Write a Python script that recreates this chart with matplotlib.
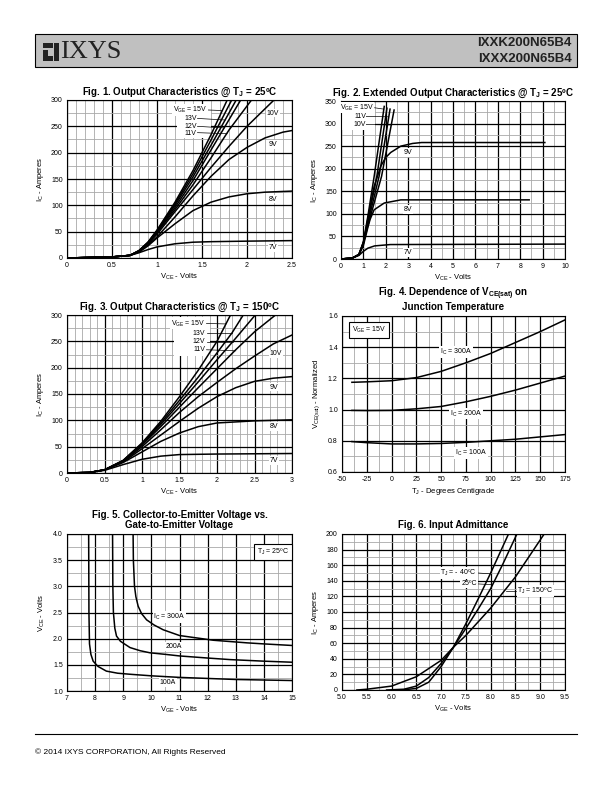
import numpy as np
import matplotlib
matplotlib.use('Agg')
import matplotlib.pyplot as plt
from matplotlib.patches import Rectangle

plt.rcParams['font.family'] = ['Liberation Sans Narrow', 'Liberation Sans', 'DejaVu Sans']
plt.rcParams['mathtext.default'] = 'regular'

# ---- Fig. 1 : output characteristics @ 25C (VCE volts, IC amps)
f1_x15 = [0, 0.5, 0.7, 0.8, 0.9, 1.0, 1.2, 1.4, 1.6, 1.78]
f1_y15 = [0, 2, 5, 14, 30, 53, 106, 166, 234, 300]
f1_x14 = [0, 0.5, 0.7, 0.8, 0.9, 1.0, 1.2, 1.4, 1.6, 1.83]
f1_y14 = [0, 2, 5, 14, 30, 52, 103, 160, 224, 300]
f1_x13 = [0, 0.5, 0.7, 0.8, 0.9, 1.0, 1.2, 1.4, 1.6, 1.88]
f1_y13 = [0, 2, 5, 14, 29, 51, 100, 154, 214, 300]
f1_x12 = [0, 0.5, 0.7, 0.8, 0.9, 1.0, 1.2, 1.4, 1.6, 1.93]
f1_y12 = [0, 2, 5, 13, 28, 50, 96, 147, 205, 300]
f1_x11 = [0, 0.5, 0.7, 0.8, 0.9, 1.0, 1.2, 1.4, 1.6, 1.8, 2.05]
f1_y11 = [0, 2, 5, 13, 28, 48, 92, 139, 190, 243, 300]
f1_x10 = [0, 0.5, 0.7, 0.8, 0.9, 1.0, 1.2, 1.4, 1.6, 1.8, 2.0, 2.3]
f1_y10 = [0, 2, 5, 13, 27, 45, 88, 130, 172, 212, 250, 300]
f1_x9 = [0, 0.5, 0.7, 0.8, 0.9, 1.0, 1.2, 1.4, 1.6, 1.8, 2.0, 2.2, 2.4, 2.5]
f1_y9 = [0, 2, 5, 12, 25, 40, 78, 118, 155, 187, 210, 228, 239, 242]
f1_x8 = [0, 0.5, 0.7, 0.8, 0.9, 1.0, 1.2, 1.4, 1.6, 1.8, 2.0, 2.2, 2.5]
f1_y8 = [0, 2, 5, 11, 23, 38, 65, 90, 106, 116, 122, 125, 127]
f1_x7 = [0, 0.5, 0.7, 0.8, 0.9, 1.0, 1.2, 1.4, 1.6, 2.0, 2.5]
f1_y7 = [0, 2, 5, 10, 16, 21, 27, 30, 31, 32, 33]

# ---- Fig. 2 : extended output characteristics @ 25C
f2_x15 = [0, 0.5, 0.8, 1.0, 1.2, 1.48, 1.93]
f2_y15 = [0, 2, 10, 38, 95, 183, 338]
f2_x13 = [0, 0.5, 0.8, 1.0, 1.2, 1.6, 2.05]
f2_y13 = [0, 2, 10, 37, 85, 183, 334]
f2_x11 = [0, 0.5, 0.8, 1.0, 1.2, 1.7, 2.19]
f2_y11 = [0, 2, 10, 36, 80, 183, 332]
f2_x10 = [0, 0.5, 0.8, 1.0, 1.2, 1.81, 2.37]
f2_y10 = [0, 2, 10, 35, 74, 183, 330]
f2_x9 = [0, 0.5, 0.8, 1.0, 1.2, 1.48, 1.78, 2.0, 2.22, 2.67, 3.2, 3.6, 9.1]
f2_y9 = [0, 2, 9, 34, 90, 161, 206, 225, 236, 250, 256, 258, 258]
f2_x8 = [0, 0.5, 0.8, 1.0, 1.2, 1.3, 1.48, 1.93, 2.67, 8.4]
f2_y8 = [0, 2, 9, 30, 70, 88, 109, 124, 131, 131]
f2_x7 = [0, 0.5, 0.8, 1.0, 1.2, 1.5, 2.2, 10]
f2_y7 = [0, 2, 8, 17, 24, 29, 32, 33]

# ---- Fig. 3 : output characteristics @ 150C
f3_x15 = [0, 0.3, 0.5, 0.75, 1.0, 1.25, 1.5, 1.75, 2.0, 2.18]
f3_y15 = [0, 1, 6, 24, 57, 98, 145, 195, 250, 300]
f3_x13 = [0, 0.3, 0.5, 0.75, 1.0, 1.25, 1.5, 1.75, 2.0, 2.2, 2.35]
f3_y13 = [0, 1, 6, 24, 56, 95, 138, 182, 228, 266, 300]
f3_x12 = [0, 0.3, 0.5, 0.75, 1.0, 1.25, 1.5, 1.75, 2.0, 2.25, 2.51]
f3_y12 = [0, 1, 6, 23, 55, 92, 132, 173, 215, 256, 300]
f3_x11 = [0, 0.3, 0.5, 0.75, 1.0, 1.25, 1.5, 1.75, 2.0, 2.25, 2.5, 2.78]
f3_y11 = [0, 1, 6, 23, 53, 88, 125, 162, 198, 234, 268, 300]
f3_x10 = [0, 0.3, 0.5, 0.75, 1.0, 1.25, 1.5, 1.75, 2.0, 2.25, 2.5, 2.75, 3.0]
f3_y10 = [0, 1, 6, 22, 50, 82, 115, 145, 172, 198, 222, 245, 262]
f3_x9 = [0, 0.3, 0.5, 0.75, 1.0, 1.25, 1.5, 1.75, 2.0, 2.25, 2.5, 2.75, 3.0]
f3_y9 = [0, 1, 6, 21, 46, 72, 98, 123, 145, 162, 174, 180, 183]
f3_x8 = [0, 0.3, 0.5, 0.75, 1.0, 1.25, 1.5, 1.75, 2.0, 2.5, 3.0]
f3_y8 = [0, 1, 6, 20, 40, 60, 76, 88, 95, 99, 101]
f3_x7 = [0, 0.3, 0.5, 0.75, 1.0, 1.25, 1.5, 2.0, 3.0]
f3_y7 = [0, 1, 5, 16, 26, 32, 35, 36, 37]

# ---- Fig. 4 : VCE(sat) normalized vs junction temperature
f4_temp = [-40, -25, 0, 25, 50, 75, 100, 125, 150, 175]
f4_300a = [1.175, 1.178, 1.185, 1.205, 1.245, 1.30, 1.36, 1.43, 1.50, 1.575]
f4_200a = [0.995, 0.994, 0.995, 1.005, 1.02, 1.05, 1.085, 1.125, 1.17, 1.215]
f4_100a = [0.795, 0.788, 0.78, 0.78, 0.783, 0.79, 0.80, 0.81, 0.825, 0.84]

# ---- Fig. 5 : VCE vs VGE
f5_x100 = [7.77, 7.78, 7.8, 7.85, 7.93, 8.1, 8.4, 8.8, 9.24, 10, 11, 12, 13, 14, 15]
f5_y100 = [4.0, 2.5, 1.9, 1.7, 1.57, 1.47, 1.38, 1.34, 1.32, 1.29, 1.26, 1.24, 1.22, 1.21, 1.2]
f5_x200 = [8.62, 8.63, 8.65, 8.7, 8.76, 8.9, 9.24, 9.6, 9.95, 10.5, 11, 12, 12.8, 14, 15]
f5_y200 = [4.0, 3.0, 2.5, 2.2, 2.05, 1.95, 1.83, 1.77, 1.73, 1.7, 1.67, 1.63, 1.6, 1.57, 1.55]
f5_x300 = [9.35, 9.36, 9.4, 9.45, 9.53, 9.65, 9.83, 10.1, 10.42, 11, 12.2, 13.4, 14, 15]
f5_y300 = [4.0, 3.5, 3.0, 2.8, 2.62, 2.48, 2.36, 2.26, 2.17, 2.06, 1.97, 1.92, 1.9, 1.87]

# ---- Fig. 6 : input admittance
f6_xm40 = [6.2, 6.5, 6.75, 7.0, 7.25, 7.5, 7.75, 8.0, 8.36]
f6_ym40 = [0, 2, 10, 30, 55, 85, 117, 150, 200]
f6_x25 = [5.9, 6.25, 6.5, 6.75, 7.0, 7.25, 7.5, 7.75, 8.0, 8.25, 8.53]
f6_y25 = [0, 1, 5, 16, 34, 55, 79, 104, 130, 162, 200]
f6_x150 = [5.3, 5.5, 6.0, 6.5, 7.0, 7.25, 7.5, 8.0, 8.5, 9.08]
f6_y150 = [0, 1, 5, 17, 38, 55, 70, 105, 145, 200]

W, H = 612.0, 792.0


def box(l, t, r, b):
    return [l / W, 1 - b / H, (r - l) / W, (b - t) / H]


def setup(ax, xlim, ylim, xmaj, ymaj, xmin, ymin, xlab, ylab):
    ax.set_xlim(xlim)
    ax.set_ylim(ylim)
    ax.set_xticks(xmaj)
    ax.set_xticklabels(xlab)
    ax.set_yticks(ymaj)
    ax.set_yticklabels(ylab)
    ax.set_xticks(xmin, minor=True)
    ax.set_yticks(ymin, minor=True)
    ax.set_axisbelow(True)
    ax.grid(True, which='minor', color='#a8a8a8', lw=0.6)
    ax.grid(True, which='major', color='black', lw=0.9)
    ax.tick_params(which='both', length=0, labelsize=5, pad=3)
    for s in ax.spines.values():
        s.set_linewidth(0.8)


def lab(ax, x, y, s, ha='left', fs=5, pad=0.6):
    ax.text(x, y, s, fontsize=fs, ha=ha, va='center', zorder=4,
            bbox=dict(facecolor='white', edgecolor='none', pad=pad))


def lead(ax, x0, y0, x1, y1):
    ax.plot([x0, x1], [y0, y1], color='black', lw=0.5, zorder=3)


def white(ax, x0, y0, x1, y1):
    ax.add_patch(Rectangle((x0, y0), x1 - x0, y1 - y0, facecolor='white',
                           edgecolor='none', zorder=1))


LW = 1.1
tfs = 7
lfs = 5.5

fig = plt.figure(figsize=(6.12, 7.92), dpi=100)

# header
fig.patches.append(Rectangle((35 / W, 1 - 67 / H), 542 / W, 33 / H, transform=fig.transFigure,
                             facecolor='#c0c0c0', edgecolor='black', lw=0.8))
fig.patches.append(Rectangle((43 / W, 1 - 61 / H), 16 / W, 18 / H, transform=fig.transFigure,
                             facecolor='#222222', edgecolor='none'))
fig.patches.append(Rectangle((43 / W, 1 - 49.5 / H), 10 / W, 1.2 / H, transform=fig.transFigure,
                             facecolor='#c0c0c0', edgecolor='none'))
fig.patches.append(Rectangle((53 / W, 1 - 61 / H), 1.2 / W, 18 / H, transform=fig.transFigure,
                             facecolor='#c0c0c0', edgecolor='none'))
fig.patches.append(Rectangle((48 / W, 1 - 56 / H), 5 / W, 6.5 / H, transform=fig.transFigure,
                             facecolor='#c0c0c0', edgecolor='none'))
fig.text(60 / W, 1 - 52.5 / H, 'IXYS', family=['Liberation Serif', 'DejaVu Serif'], fontsize=19,
         color='#222222', va='center', ha='left')
fig.text(572 / W, 1 - 43 / H, 'IXXK200N65B4', fontsize=9.5, fontweight='bold', ha='right', va='center',
         family=['Liberation Sans', 'DejaVu Sans'], color='#222222')
fig.text(572 / W, 1 - 59 / H, 'IXXX200N65B4', fontsize=9.5, fontweight='bold', ha='right', va='center',
         family=['Liberation Sans', 'DejaVu Sans'], color='#222222')

# footer
fig.add_artist(plt.Line2D([35 / W, 577 / W], [1 - 734 / H, 1 - 734 / H], transform=fig.transFigure,
                          color='black', lw=0.8))
fig.text(35 / W, 1 - 752 / H, '\u00a9 2014 IXYS CORPORATION, All Rights Reserved', fontsize=6,
         family=['Liberation Sans', 'DejaVu Sans'], va='center')

# ---------- Fig 1
ax1 = fig.add_axes(box(67, 100, 292, 258))
setup(ax1, (0, 2.5), (0, 300), [0, 0.5, 1, 1.5, 2, 2.5], np.arange(0, 301, 50),
      np.arange(0, 2.51, 0.1), np.arange(0, 301, 25),
      ['0', '0.5', '1', '1.5', '2', '2.5'], [str(v) for v in range(0, 301, 50)])
white(ax1, 1.22, 228, 1.6, 293)
for xs, ys in [(f1_x15, f1_y15), (f1_x14, f1_y14), (f1_x13, f1_y13), (f1_x12, f1_y12),
               (f1_x11, f1_y11), (f1_x10, f1_y10), (f1_x9, f1_y9), (f1_x8, f1_y8), (f1_x7, f1_y7)]:
    ax1.plot(xs, ys, color='black', lw=LW, zorder=2)
lab(ax1, 1.56, 281, 'V$_{GE}$ = 15V', ha='right')
lab(ax1, 1.44, 264, '13V', ha='right')
lab(ax1, 1.44, 249, '12V', ha='right')
lab(ax1, 1.44, 237, '11V', ha='right')
lead(ax1, 1.57, 281, 1.72, 280)
lead(ax1, 1.45, 265, 1.76, 262)
lead(ax1, 1.45, 250, 1.75, 247)
lead(ax1, 1.45, 238, 1.78, 236)
lab(ax1, 2.22, 275, '10V')
lab(ax1, 2.24, 216, '9V')
lab(ax1, 2.24, 112, '8V')
lab(ax1, 2.24, 19, '7V')
ax1.set_title('Fig. 1. Output Characteristics @ T$_J$ = 25\u00baC', fontsize=tfs, fontweight='bold', pad=4)
ax1.set_xlabel('V$_{CE}$ - Volts', fontsize=lfs, labelpad=2)
ax1.set_ylabel('I$_C$ - Amperes', fontsize=lfs, labelpad=4)

# ---------- Fig 2
ax2 = fig.add_axes(box(341, 101, 565, 259))
setup(ax2, (0, 10), (0, 350), np.arange(0, 11, 1), np.arange(0, 351, 50),
      np.arange(0, 10.01, 0.5), np.arange(0, 351, 25),
      [str(v) for v in range(0, 11)], [str(v) for v in range(0, 351, 50)])
white(ax2, 0.05, 285, 1.5, 346)
for xs, ys in [(f2_x15, f2_y15), (f2_x13, f2_y13), (f2_x11, f2_y11), (f2_x10, f2_y10),
               (f2_x9, f2_y9), (f2_x8, f2_y8), (f2_x7, f2_y7)]:
    ax2.plot(xs, ys, color='black', lw=LW, zorder=2)
lab(ax2, 1.48, 335, 'V$_{GE}$ = 15V', ha='right', pad=0.2)
lab(ax2, 1.11, 316, '11V', ha='right', pad=0.2)
lab(ax2, 1.11, 298, '10V', ha='right', pad=0.2)
lead(ax2, 1.5, 335, 1.91, 332)
lead(ax2, 1.13, 316, 2.12, 315)
lead(ax2, 1.13, 298, 2.27, 297)
lab(ax2, 2.8, 236, '9V')
lab(ax2, 2.8, 109, '8V')
lab(ax2, 2.8, 14, '7V')
ax2.set_title('Fig. 2. Extended Output Characteristics @ T$_J$ = 25\u00baC', fontsize=tfs,
              fontweight='bold', pad=4)
ax2.set_xlabel('V$_{CE}$ - Volts', fontsize=lfs, labelpad=2)
ax2.set_ylabel('I$_C$ - Amperes', fontsize=lfs, labelpad=4)

# ---------- Fig 3
ax3 = fig.add_axes(box(67, 315, 292, 473))
setup(ax3, (0, 3), (0, 300), [0, 0.5, 1, 1.5, 2, 2.5, 3], np.arange(0, 301, 50),
      np.arange(0, 3.01, 0.1), np.arange(0, 301, 25),
      ['0', '0.5', '1', '1.5', '2', '2.5', '3'], [str(v) for v in range(0, 301, 50)])
white(ax3, 1.42, 222, 1.9, 294)
for xs, ys in [(f3_x15, f3_y15), (f3_x13, f3_y13), (f3_x12, f3_y12), (f3_x11, f3_y11),
               (f3_x10, f3_y10), (f3_x9, f3_y9), (f3_x8, f3_y8), (f3_x7, f3_y7)]:
    ax3.plot(xs, ys, color='black', lw=LW, zorder=2)
lab(ax3, 1.84, 284, 'V$_{GE}$ = 15V', ha='right')
lab(ax3, 1.84, 265, '13V', ha='right')
lab(ax3, 1.84, 249, '12V', ha='right')
lab(ax3, 1.84, 234, '11V', ha='right')
lead(ax3, 1.86, 284, 2.12, 283)
lead(ax3, 1.86, 265, 2.2, 265)
lead(ax3, 1.86, 249, 2.21, 249)
lead(ax3, 1.86, 234, 2.25, 232)
lab(ax3, 2.7, 226, '10V')
lab(ax3, 2.7, 163, '9V')
lab(ax3, 2.7, 88, '8V')
lab(ax3, 2.7, 24, '7V')
ax3.set_title('Fig. 3. Output Characteristics @ T$_J$ = 150\u00baC', fontsize=tfs, fontweight='bold', pad=4)
ax3.set_xlabel('V$_{CE}$ - Volts', fontsize=lfs, labelpad=2)
ax3.set_ylabel('I$_C$ - Amperes', fontsize=lfs, labelpad=4)

# ---------- Fig 4
ax4 = fig.add_axes(box(342, 316, 565, 472))
setup(ax4, (-50, 175), (0.6, 1.6), np.arange(-50, 176, 25), np.arange(0.6, 1.61, 0.2),
      np.arange(-50, 175.1, 12.5), np.arange(0.6, 1.61, 0.1),
      [str(v) for v in range(-50, 176, 25)], ['0.6', '0.8', '1.0', '1.2', '1.4', '1.6'])
ax4.plot(f4_temp, f4_300a, color='black', lw=LW, zorder=2)
ax4.plot(f4_temp, f4_200a, color='black', lw=LW, zorder=2)
ax4.plot(f4_temp, f4_100a, color='black', lw=LW, zorder=2)
ax4.text(-40, 1.51, 'V$_{GE}$ = 15V', fontsize=5, va='center', zorder=4,
         bbox=dict(facecolor='white', edgecolor='black', lw=0.8, pad=2))
lab(ax4, 49, 1.37, 'I$_C$ = 300A')
lab(ax4, 59, 0.975, 'I$_C$ = 200A')
lab(ax4, 64, 0.72, 'I$_C$ = 100A')
ax4.set_title('Fig. 4. Dependence of V$_{CE(sat)}$ on\nJunction Temperature', fontsize=tfs,
              fontweight='bold', pad=4, linespacing=1.1)
ax4.set_xlabel('T$_J$ - Degrees Centigrade', fontsize=lfs, labelpad=2)
ax4.set_ylabel('V$_{CE(sat)}$ - Normalized', fontsize=lfs, labelpad=4)

# ---------- Fig 5
ax5 = fig.add_axes(box(67, 534, 292, 691))
setup(ax5, (7, 15), (1.0, 4.0), np.arange(7, 16, 1), np.arange(1.0, 4.01, 0.5),
      np.arange(7, 15.01, 0.5), np.arange(1.0, 4.01, 0.25),
      [str(v) for v in range(7, 16)], ['1.0', '1.5', '2.0', '2.5', '3.0', '3.5', '4.0'])
ax5.plot(f5_x100, f5_y100, color='black', lw=LW, zorder=2)
ax5.plot(f5_x200, f5_y200, color='black', lw=LW, zorder=2)
ax5.plot(f5_x300, f5_y300, color='black', lw=LW, zorder=2)
ax5.text(13.75, 3.66, 'T$_J$ = 25\u00baC', fontsize=5, va='center', zorder=4,
         bbox=dict(facecolor='white', edgecolor='black', lw=0.8, pad=2))
lab(ax5, 10.07, 2.41, 'I$_C$ = 300A')
lab(ax5, 10.5, 1.85, '200A')
lab(ax5, 10.3, 1.16, '100A')
ax5.set_title('Fig. 5. Collector-to-Emitter Voltage vs.\nGate-to-Emitter Voltage', fontsize=tfs,
              fontweight='bold', pad=4, linespacing=1.1)
ax5.set_xlabel('V$_{GE}$ - Volts', fontsize=lfs, labelpad=2)
ax5.set_ylabel('V$_{CE}$ - Volts', fontsize=lfs, labelpad=4)

# ---------- Fig 6
ax6 = fig.add_axes(box(342, 534, 565, 690))
setup(ax6, (5.0, 9.5), (0, 200), np.arange(5.0, 9.51, 0.5), np.arange(0, 201, 20),
      np.arange(5.0, 9.51, 0.25), np.arange(0, 201, 10),
      ['%.1f' % v for v in np.arange(5.0, 9.51, 0.5)], [str(v) for v in range(0, 201, 20)])
ax6.plot(f6_xm40, f6_ym40, color='black', lw=LW, zorder=2)
ax6.plot(f6_x25, f6_y25, color='black', lw=LW, zorder=2)
ax6.plot(f6_x150, f6_y150, color='black', lw=LW, zorder=2)
lab(ax6, 7.72, 150, 'T$_J$ = - 40\u00baC', ha='right')
lab(ax6, 7.72, 136, '25\u00baC', ha='right')
lab(ax6, 8.54, 127, 'T$_J$ = 150\u00baC')
lead(ax6, 7.74, 150, 7.98, 149)
lead(ax6, 7.74, 136, 8.04, 135)
lead(ax6, 8.52, 127, 8.3, 127)
ax6.set_title('Fig. 6. Input Admittance', fontsize=tfs, fontweight='bold', pad=4)
ax6.set_xlabel('V$_{GE}$ - Volts', fontsize=lfs, labelpad=2)
ax6.set_ylabel('I$_C$ - Amperes', fontsize=lfs, labelpad=4)

fig.savefig('out.png', dpi=100)
